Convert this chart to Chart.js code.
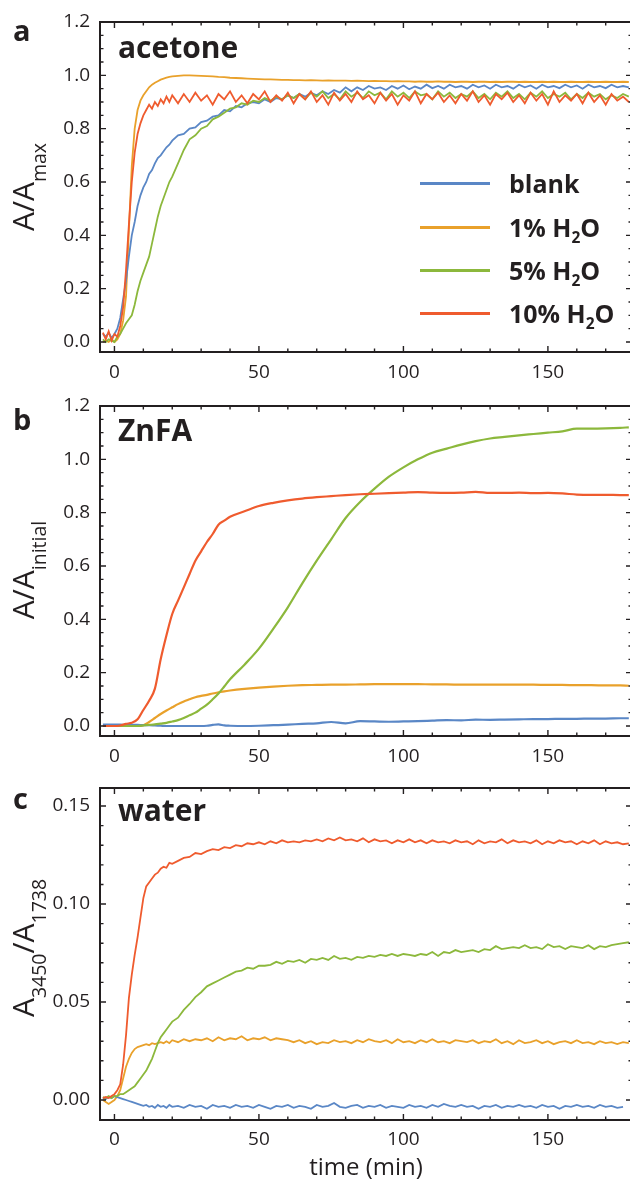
<!DOCTYPE html>
<html>
<head>
<meta charset="utf-8">
<script src="https://cdn.jsdelivr.net/npm/chart.js@4.4.1/dist/chart.umd.min.js"></script>
<style>
  html, body { margin: 0; padding: 0; background: #fff; overflow: hidden; }
  body { width: 630px; height: 1180px; position: relative; font-family: "Open Sans", sans-serif; color: #231f20; }
  canvas { position: absolute; left: 0; }
  .lbl { position: absolute; font-weight: 700; line-height: 1; white-space: nowrap; }
  .letter { font-size: 29px; left: 13px; }
  .name { font-size: 30px; left: 118px; }
  .ytitle { position: absolute; left: -127.5px; width: 300px; height: 30px; line-height: 30px; font-size: 30px;
            text-align: center; white-space: nowrap; transform: rotate(-90deg); }
  .ytitle sub { font-size: 0.65em; vertical-align: -12px; line-height: 0; }
  #legend { position: absolute; left: 420px; top: 162px; }
  .row { display: flex; align-items: center; height: 43.4px; }
  .swatch { width: 70px; height: 3px; margin-right: 19px; }
  .row span { font-size: 25px; font-weight: 700; line-height: 1; white-space: nowrap; }
  .row sub { font-size: 0.62em; vertical-align: -6px; line-height: 0; }
</style>
</head>
<body>
<canvas id="chartA" width="634" height="400" style="top:0px"></canvas>
<canvas id="chartB" width="634" height="400" style="top:380px"></canvas>
<canvas id="chartC" width="634" height="420" style="top:760px"></canvas>

<div class="lbl letter" style="top:15px">a</div>
<div class="lbl letter" style="top:404px">b</div>
<div class="lbl letter" style="top:783px">c</div>
<div class="lbl name" style="top:32px">acetone</div>
<div class="lbl name" style="top:415px">ZnFA</div>
<div class="lbl name" style="top:795px">water</div>
<div class="ytitle" style="top:172px">A/A<sub>max</sub></div>
<div class="ytitle" style="top:555px">A/A<sub>initial</sub></div>
<div class="ytitle" style="top:933px">A<sub>3450</sub>/A<sub>1738</sub></div>
<div id="legend"></div>

<script>
// legend / series
const seriesNames = ["blank", "1% H<sub>2</sub>O", "5% H<sub>2</sub>O", "10% H<sub>2</sub>O"];
const seriesColors = ["#5a87c6", "#e9a12b", "#8cb83c", "#ef5b2e"];
const seriesOrder = [2, 3, 1, 0];

// time axes (min)
const scanTimes = [-4,-3,-2,-1,0,1,2,3,4,5,6,7,8,9,10,11,12,13,14,15,16,17,18,19,20,
  22,24,26,28,30,32,34,36,38,40,42,44,46,48,50,52,54,56,58,60,
  62,64,66,68,70,72,74,76,78,80,82,84,86,88,90,92,94,96,98,100,
  102,104,106,108,110,112,114,116,118,120,122,124,126,128,130,132,134,136,138,140,
  142,144,146,148,150,152,154,156,158,160,162,164,166,168,170,172,174,176,178];
const zincTimes = [-4,-2,0,2,4,6,8,10,12,14,16,18,20,22,24,26,28,30,32,34,36,38,40,
  45,50,55,60,65,70,75,80,85,90,95,100,105,110,115,120,125,130,135,140,145,150,155,160,165,170,175,178];

// a: acetone, A/Amax
const blankA = [0.03,0.02,0.035,0.015,0.03,0.05,0.09,0.16,0.23,0.32,0.40,0.45,0.51,0.55,0.58,0.60,0.63,0.645,0.67,0.69,0.70,0.715,0.73,0.74,0.755,
  0.775,0.78,0.80,0.805,0.825,0.83,0.845,0.85,0.87,0.865,0.885,0.88,0.895,0.90,0.895,0.91,0.90,0.915,0.91,0.925,
  0.915,0.93,0.92,0.935,0.925,0.94,0.93,0.945,0.935,0.955,0.94,0.955,0.945,0.96,0.95,0.955,0.945,0.96,0.95,0.962,
  0.948,0.958,0.95,0.965,0.952,0.96,0.95,0.965,0.955,0.96,0.95,0.965,0.955,0.962,0.95,0.965,0.955,0.96,0.95,0.965,
  0.955,0.962,0.95,0.965,0.955,0.96,0.952,0.965,0.955,0.962,0.95,0.965,0.955,0.96,0.952,0.965,0.955,0.96,0.955];
const h2o1A = [0.0,0.005,0.0,0.01,0.0,0.01,0.03,0.08,0.17,0.42,0.66,0.80,0.87,0.905,0.925,0.94,0.955,0.965,0.972,0.978,0.984,0.988,0.991,0.994,0.996,
  0.998,1.0,1.0,0.999,0.998,0.997,0.996,0.994,0.993,0.991,0.99,0.989,0.988,0.987,0.986,0.985,0.985,0.984,0.983,0.983,
  0.982,0.982,0.981,0.982,0.981,0.98,0.981,0.98,0.98,0.98,0.979,0.98,0.979,0.978,0.979,0.978,0.978,0.977,0.978,0.977,
  0.977,0.976,0.977,0.976,0.976,0.977,0.976,0.976,0.975,0.976,0.976,0.975,0.976,0.976,0.975,0.976,0.975,0.976,0.976,0.975,
  0.976,0.975,0.975,0.976,0.975,0.976,0.975,0.975,0.976,0.975,0.975,0.976,0.975,0.975,0.976,0.975,0.975,0.976,0.975];
const h2o5A = [0.01,0.0,0.01,0.005,0.0,0.02,0.03,0.05,0.07,0.085,0.10,0.14,0.19,0.23,0.26,0.29,0.32,0.37,0.42,0.47,0.51,0.54,0.57,0.60,0.62,
  0.67,0.72,0.76,0.775,0.80,0.81,0.835,0.845,0.86,0.875,0.88,0.895,0.89,0.905,0.90,0.915,0.905,0.92,0.91,0.925,
  0.915,0.93,0.91,0.935,0.92,0.94,0.915,0.93,0.91,0.94,0.92,0.935,0.915,0.94,0.925,0.935,0.91,0.94,0.92,0.935,
  0.915,0.94,0.925,0.93,0.91,0.94,0.92,0.935,0.915,0.93,0.92,0.94,0.915,0.93,0.91,0.935,0.92,0.94,0.915,0.93,
  0.91,0.935,0.92,0.94,0.915,0.93,0.92,0.935,0.91,0.93,0.915,0.935,0.92,0.93,0.91,0.925,0.915,0.93,0.92];
const h2o10A = [0.035,0.01,0.04,0.005,0.03,0.02,0.06,0.13,0.27,0.44,0.60,0.71,0.78,0.82,0.85,0.87,0.89,0.875,0.90,0.885,0.91,0.895,0.92,0.90,0.925,
  0.895,0.93,0.90,0.935,0.905,0.925,0.89,0.93,0.91,0.94,0.90,0.925,0.895,0.93,0.91,0.94,0.90,0.925,0.905,0.935,
  0.895,0.93,0.91,0.94,0.90,0.925,0.89,0.935,0.905,0.93,0.90,0.94,0.91,0.925,0.895,0.935,0.905,0.93,0.89,0.925,
  0.905,0.94,0.895,0.93,0.91,0.935,0.90,0.925,0.895,0.93,0.905,0.94,0.90,0.925,0.89,0.93,0.91,0.935,0.90,0.925,
  0.895,0.935,0.905,0.93,0.89,0.94,0.90,0.925,0.905,0.93,0.895,0.935,0.90,0.925,0.89,0.93,0.905,0.92,0.90];

// b: ZnFA, A/Ainitial
const blankB = [0.005,0.005,0.005,0.005,0.004,0.004,0.004,0.003,0.003,0.002,0.001,0.0,0.0,0.0,0.0,0.0,0.0,0.0,0.001,0.004,0.006,0.002,0.001,
  0.0,0.001,0.003,0.005,0.008,0.01,0.015,0.01,0.018,0.017,0.016,0.017,0.018,0.02,0.022,0.021,0.024,0.023,0.024,0.025,0.026,0.026,0.027,0.027,0.028,0.028,0.029,
  0.029];
const h2o1B = [0,0,0,0,0,0,0,0.003,0.015,0.03,0.045,0.058,0.07,0.082,0.092,0.10,0.108,0.113,0.117,0.122,0.126,0.13,0.133,
  0.139,0.144,0.148,0.151,0.153,0.154,0.155,0.155,0.156,0.157,0.157,0.157,0.157,0.156,0.156,0.155,0.155,0.155,0.155,0.155,0.155,0.154,0.154,0.153,0.153,0.152,0.152,
  0.151];
const h2o5B = [0,0,0,0,0,0,0,0.002,0.004,0.006,0.009,0.012,0.017,0.022,0.03,0.04,0.05,0.065,0.08,0.10,0.122,0.148,0.175,
  0.23,0.29,0.365,0.445,0.535,0.62,0.70,0.78,0.84,0.89,0.935,0.97,1.0,1.025,1.04,1.055,1.068,1.078,1.084,1.09,1.095,1.1,1.105,1.115,1.115,1.116,1.118,
  1.12];
const h2o10B = [0,0,0,0.002,0.008,0.012,0.025,0.06,0.095,0.14,0.25,0.34,0.42,0.47,0.52,0.57,0.62,0.655,0.69,0.72,0.755,0.77,0.785,
  0.805,0.825,0.837,0.846,0.853,0.858,0.862,0.866,0.869,0.871,0.873,0.875,0.877,0.875,0.874,0.875,0.878,0.874,0.874,0.875,0.873,0.874,0.872,0.868,0.867,0.867,0.866,
  0.866];

// c: water, A3450/A1738
const blankC = [0.001,0.0005,0.0015,0.001,0.002,0.0015,0.001,0.0005,0.0,-0.0005,-0.001,-0.0015,-0.002,-0.0025,-0.003,-0.0025,-0.0035,-0.003,-0.004,-0.0025,-0.0035,-0.003,-0.004,-0.0025,-0.0035,
  -0.003,-0.004,-0.0025,-0.0035,-0.003,-0.0045,-0.0025,-0.0035,-0.003,-0.004,-0.0025,-0.0035,-0.003,-0.004,-0.0025,-0.0035,-0.0045,-0.003,-0.0035,-0.0025,
  -0.004,-0.003,-0.0035,-0.0045,-0.0025,-0.0035,-0.003,-0.0015,-0.0035,-0.004,-0.003,-0.0025,-0.004,-0.003,-0.0035,-0.0025,-0.004,-0.003,-0.0035,-0.004,
  -0.0025,-0.0035,-0.003,-0.004,-0.0025,-0.0035,-0.002,-0.003,-0.0035,-0.0025,-0.0035,-0.003,-0.0045,-0.003,-0.0035,-0.0025,-0.004,-0.003,-0.0035,-0.0025,
  -0.0035,-0.003,-0.004,-0.0025,-0.0035,-0.003,-0.0045,-0.003,-0.0035,-0.0025,-0.0035,-0.003,-0.004,-0.0025,-0.0035,-0.003,-0.004,-0.0035,null];
const h2o1C = [0.0,-0.001,-0.002,-0.001,0.0,0.002,0.005,0.011,0.017,0.021,0.024,0.026,0.027,0.0275,0.028,0.0285,0.028,0.029,0.0285,0.029,0.0295,0.029,0.03,0.029,0.0305,
  0.0295,0.031,0.03,0.031,0.0305,0.0315,0.03,0.032,0.0305,0.0315,0.031,0.0325,0.0305,0.0315,0.031,0.032,0.0305,0.0315,0.031,0.0305,
  0.0295,0.0305,0.029,0.03,0.0285,0.0295,0.029,0.0305,0.0295,0.03,0.029,0.0305,0.0295,0.031,0.03,0.0295,0.0305,0.029,0.031,0.0295,
  0.03,0.029,0.0305,0.0295,0.031,0.0295,0.03,0.029,0.0305,0.03,0.0295,0.0305,0.029,0.03,0.0295,0.031,0.029,0.03,0.0285,0.0305,
  0.029,0.0295,0.0305,0.029,0.03,0.0285,0.0295,0.03,0.029,0.0305,0.029,0.0295,0.0285,0.03,0.029,0.0295,0.0285,0.0295,0.029];
const h2o5C = [0.0015,0.001,0.002,0.001,0.002,0.002,0.003,0.003,0.004,0.005,0.006,0.007,0.009,0.011,0.013,0.015,0.018,0.021,0.025,0.029,0.032,0.034,0.036,0.038,0.04,
  0.042,0.046,0.049,0.0525,0.055,0.058,0.0595,0.061,0.0625,0.064,0.0655,0.066,0.0675,0.067,0.0685,0.0685,0.069,0.0705,0.0695,0.071,
  0.0705,0.0715,0.07,0.072,0.0715,0.0725,0.0715,0.0735,0.072,0.0725,0.0715,0.073,0.0725,0.0735,0.073,0.074,0.0735,0.0745,0.0735,0.0745,
  0.074,0.0735,0.0745,0.074,0.0755,0.0735,0.0755,0.075,0.0765,0.0755,0.076,0.0765,0.0755,0.077,0.0765,0.0785,0.077,0.0775,0.078,0.0775,
  0.079,0.0775,0.078,0.077,0.0795,0.078,0.0785,0.077,0.0785,0.078,0.0775,0.079,0.077,0.0785,0.078,0.079,0.0795,0.08,0.0805];
const h2o10C = [0.001,0.0015,0.001,0.002,0.003,0.005,0.008,0.018,0.033,0.052,0.064,0.074,0.083,0.093,0.103,0.109,0.111,0.113,0.115,0.116,0.118,0.119,0.1185,0.121,0.1205,
  0.122,0.1235,0.124,0.126,0.1255,0.127,0.128,0.1275,0.129,0.1285,0.13,0.1295,0.131,0.1305,0.1315,0.1305,0.132,0.131,0.1325,0.1315,
  0.132,0.1315,0.1325,0.132,0.133,0.132,0.1335,0.1325,0.134,0.1325,0.133,0.132,0.1335,0.1315,0.133,0.132,0.1325,0.131,0.1325,0.1315,
  0.133,0.1315,0.1325,0.131,0.1325,0.1315,0.132,0.131,0.1325,0.1315,0.132,0.1305,0.1325,0.131,0.132,0.1315,0.133,0.131,0.1325,0.1315,
  0.132,0.131,0.1325,0.1305,0.132,0.131,0.1325,0.1315,0.132,0.1305,0.132,0.131,0.1325,0.1305,0.132,0.131,0.1315,0.1305,0.131];

const ink = "#231f20";
Chart.defaults.font.family = "'Open Sans', sans-serif";
Chart.defaults.color = ink;

// legend
document.getElementById("legend").innerHTML = seriesNames.map((n, i) =>
  `<div class="row"><div class="swatch" style="background:${seriesColors[i]}"></div><span>${n}</span></div>`).join("");

// frame + inward ticks on all four sides
const frameTicks = {
  id: "frameTicks",
  afterDatasetsDraw(chart, args, opts) {
    const { ctx, chartArea: a, scales: { x, y } } = chart;
    ctx.save();
    ctx.strokeStyle = ink;
    ctx.lineWidth = 1.4;
    ctx.beginPath();
    const mark = (scale, step, major, horiz) => {
      const first = Math.ceil(scale.min / step - 1e-9), last = Math.floor(scale.max / step + 1e-9);
      for (let k = first; k <= last; k++) {
        const v = k * step;
        const len = Math.abs(v / major - Math.round(v / major)) < 1e-6 ? 6 : 3.5;
        const p = scale.getPixelForValue(v);
        if (horiz) {
          if (p < a.left + 1 || p > a.right - 1) continue;
          ctx.moveTo(p, a.bottom); ctx.lineTo(p, a.bottom - len);
          ctx.moveTo(p, a.top); ctx.lineTo(p, a.top + len);
        } else {
          if (p < a.top + 1 || p > a.bottom - 1) continue;
          ctx.moveTo(a.left, p); ctx.lineTo(a.left + len, p);
          ctx.moveTo(a.right, p); ctx.lineTo(a.right - len, p);
        }
      }
    };
    mark(x, opts.xMinor, opts.xMajor, true);
    mark(y, opts.yMinor, opts.yMajor, false);
    ctx.stroke();
    ctx.lineWidth = 2;
    ctx.strokeRect(a.left, a.top, a.right - a.left, a.bottom - a.top);
    ctx.restore();
  }
};

function makePanel(id, times, series, cfg) {
  new Chart(document.getElementById(id), {
    type: "line",
    data: {
      datasets: series.map((vals, i) => ({
        data: times.map((t, j) => ({ x: t, y: vals[j] })),
        borderColor: seriesColors[i],
        borderWidth: cfg.lineWidth,
        pointRadius: 0,
        cubicInterpolationMode: cfg.smooth ? "monotone" : "default",
        tension: 0,
        order: seriesOrder[i],
      })),
    },
    options: {
      responsive: false,
      animation: false,
      events: [],
      layout: { padding: { top: cfg.top, right: 2, left: 0, bottom: 0 } },
      plugins: {
        legend: { display: false },
        tooltip: { enabled: false },
        frameTicks: { xMinor: 10, xMajor: 50, yMinor: cfg.yMinor, yMajor: cfg.yStep },
      },
      scales: {
        x: {
          type: "linear",
          min: -5,
          max: 179.1,
          grid: { display: false, drawTicks: false },
          border: { display: false },
          ticks: { stepSize: 50, includeBounds: false, padding: cfg.xPad, font: { size: 19 }, color: ink },
          title: cfg.xTitle
            ? { display: true, text: cfg.xTitle, font: { size: 24, lineHeight: 1 }, padding: 0, color: ink }
            : { display: false },
          afterFit: (s) => { s.height = cfg.xHeight; },
        },
        y: {
          min: cfg.yMin,
          max: cfg.yMax,
          grid: { display: false, drawTicks: false },
          border: { display: false },
          ticks: {
            stepSize: cfg.yStep,
            includeBounds: false,
            padding: 10,
            font: { size: 19 },
            color: ink,
            callback: (v) => v.toFixed(cfg.digits),
          },
          afterFit: (s) => { s.width = 100; },
        },
      },
    },
    plugins: [frameTicks],
  });
}

makePanel("chartA", scanTimes, [blankA, h2o1A, h2o5A, h2o10A],
  { top: 22, xHeight: 48, xPad: 9, yMin: -0.0375, yMax: 1.2, yStep: 0.2, yMinor: 0.05, digits: 1, lineWidth: 1.8, smooth: false });
makePanel("chartB", zincTimes, [blankB, h2o1B, h2o5B, h2o10B],
  { top: 26, xHeight: 44, xPad: 9, yMin: -0.0375, yMax: 1.2, yStep: 0.2, yMinor: 0.05, digits: 1, lineWidth: 2.2, smooth: true });
makePanel("chartC", scanTimes, [blankC, h2o1C, h2o5C, h2o10C],
  { top: 28, xHeight: 60, xPad: 8, yMin: -0.0102, yMax: 0.1592, yStep: 0.05, yMinor: 0.01, digits: 2, lineWidth: 1.8, smooth: false, xTitle: "time (min)" });
</script>
</body>
</html>
